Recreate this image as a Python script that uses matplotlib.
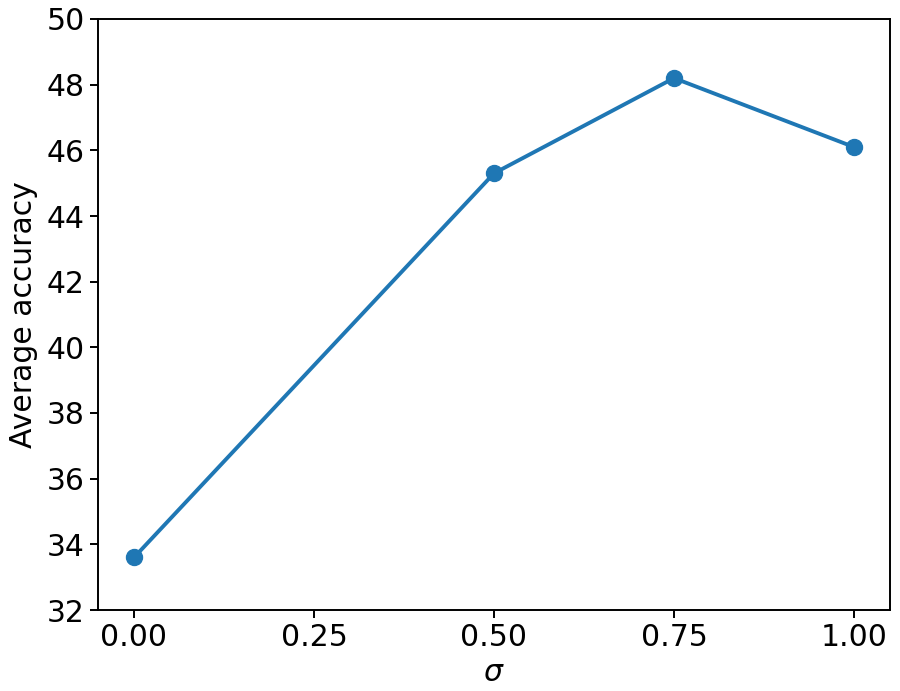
import numpy as np
import matplotlib.pyplot as plt

# data
sigma = [0.0, 0.5, 0.75, 1.0]
accuracy = [33.6, 45.3, 48.2, 46.1]
xticks = [0.0, 0.25, 0.5, 0.75, 1.0]

plt.rcParams['font.size'] = 21.5

fig = plt.figure(figsize=(9, 6.91), dpi=100)
ax = fig.add_axes([98 / 900, 81 / 691, 792 / 900, 591 / 691])
ax.plot(sigma, accuracy, color='#1f77b4', linewidth=2.8, marker='o', markersize=11.5)
ax.set_xticks(xticks)
ax.set_xticklabels(["%.2f" % t for t in xticks])
ax.set_ylim(32, 50)
ax.set_yticks(np.arange(32, 51, 2))
ax.tick_params(width=1.4, length=6)
for s in ax.spines.values():
    s.set_linewidth(1.4)
ax.set_xlabel(r"$\sigma$")
ax.set_ylabel("Average accuracy", labelpad=6)
plt.savefig("out.png", dpi=100)
